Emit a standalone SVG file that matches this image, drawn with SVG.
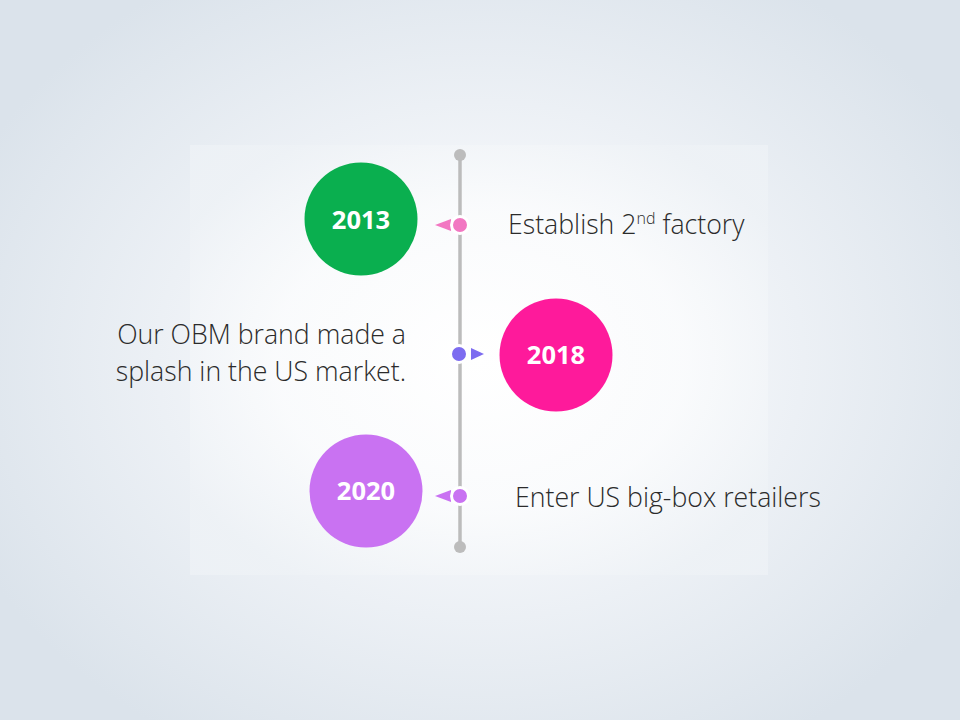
<svg xmlns="http://www.w3.org/2000/svg" width="960" height="720" viewBox="0 0 960 720">
<defs>
<style>
.yr{font-family:"Open Sans","Liberation Sans",sans-serif;font-weight:700;font-size:25.5px;fill:#ffffff;text-anchor:middle}
.lbl{font-family:"Open Sans","Liberation Sans",sans-serif;font-weight:300;font-size:26.7px;fill:#2b2b2b}
.ring{stroke:#ffffff;stroke-width:3}
</style>
<radialGradient id="bg" cx="480" cy="360" r="560" gradientUnits="userSpaceOnUse" gradientTransform="translate(480 360) scale(1 0.8) translate(-480 -360)">
<stop offset="0" stop-color="#ffffff"/>
<stop offset="0.45" stop-color="#f1f4f8"/>
<stop offset="1" stop-color="#dbe3eb"/>
</radialGradient>
<radialGradient id="pan" cx="480" cy="360" r="340" gradientUnits="userSpaceOnUse" gradientTransform="translate(480 360) scale(1 0.75) translate(-480 -360)">
<stop offset="0" stop-color="#ffffff"/>
<stop offset="0.6" stop-color="#fbfcfd"/>
<stop offset="1" stop-color="#eef2f6"/>
</radialGradient>
</defs>
<rect width="960" height="720" fill="url(#bg)"/>
<rect x="190" y="145" width="578" height="430" fill="url(#pan)" opacity="0.8"/>
<g id="connectors">
<line x1="460" y1="155" x2="460" y2="547" stroke="#bcbcbc" stroke-width="3.5"/>
<circle cx="460" cy="155" r="6" fill="#bcbcbc"/>
<circle cx="460" cy="547" r="6" fill="#bcbcbc"/>
</g>
<g id="node-2013">
<circle cx="361" cy="219" r="56.5" fill="#0aaf4f"/>
<text class="yr" x="361" y="229">2013</text>
<polygon points="435,225 451,219 451,231" fill="#f277c2"/>
<circle class="ring" cx="460" cy="225" r="8.5" fill="#f277c2"/>
<text class="lbl" x="508" y="234">Establish 2<tspan font-size="16" dy="-10">nd</tspan><tspan dy="10"> factory</tspan></text>
</g>
<g id="node-2018">
<circle cx="556" cy="355" r="56.5" fill="#fe1a9b"/>
<text class="yr" x="556" y="364">2018</text>
<polygon points="484,354 471,348 471,360" fill="#7d6cf0"/>
<circle class="ring" cx="459" cy="354" r="8.5" fill="#7d6cf0"/>
<text class="lbl" text-anchor="end"><tspan x="406" y="344">Our OBM brand made a</tspan><tspan x="406" y="381">splash in the US market.</tspan></text>
</g>
<g id="node-2020">
<circle cx="366" cy="491" r="56.5" fill="#c972f2"/>
<text class="yr" x="366" y="500">2020</text>
<polygon points="435,496 451,490 451,502" fill="#c972f2"/>
<circle class="ring" cx="460" cy="496" r="8.5" fill="#c972f2"/>
<text class="lbl" x="515" y="507">Enter US big-box retailers</text>
</g>
</svg>
